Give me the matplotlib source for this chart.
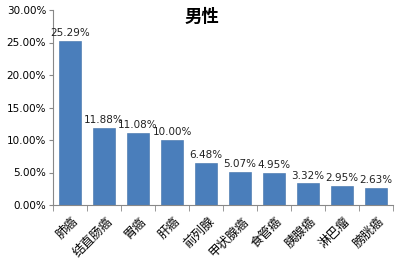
import matplotlib
matplotlib.use("Agg")
import matplotlib.pyplot as plt
from matplotlib.ticker import FuncFormatter, FixedLocator
import numpy as np

plt.rcParams['font.family'] = ['Noto Sans CJK SC', 'DejaVu Sans']

categories = ["肺癌", "结直肠癌", "胃癌", "肝癌", "前列腺", "甲状腺癌", "食管癌", "胰腺癌", "淋巴瘤", "膀胱癌"]
values = [25.29, 11.88, 11.08, 10.00, 6.48, 5.07, 4.95, 3.32, 2.95, 2.63]
yticks = [0, 5, 10, 15, 20, 25, 30]
title = "男性"

fig = plt.figure(figsize=(4, 2.67), dpi=100)
ax = fig.add_axes([53/400, 1-205/267, 340/400, 195/267])

x = np.arange(len(categories))
ax.bar(x, values, width=0.65, color="#4a7ebb", edgecolor="#3e6fa8", linewidth=0.4)
for xi, v in zip(x, values):
    ax.text(xi, v + 0.4, f"{v:.2f}%", ha="center", va="bottom", fontsize=7.5,
            family="DejaVu Sans", color="#222222")

ax.set_xlim(-0.5, len(categories) - 0.5)
ax.set_ylim(0, 30)
ax.set_yticks(yticks)
ax.yaxis.set_major_formatter(FuncFormatter(lambda v, p: f"{v:.2f}%"))
ax.tick_params(axis="y", labelsize=7.5, length=3, color="#888888", pad=2)
for lab in ax.get_yticklabels():
    lab.set_family("DejaVu Sans")

ax.set_xticks(x + 0.05)
ax.set_xticklabels(categories, rotation=45, ha="right", rotation_mode="anchor", fontsize=9)
ax.tick_params(axis="x", length=0, pad=7)
ax.xaxis.set_minor_locator(FixedLocator(np.arange(-0.5, len(categories), 1.0)))
ax.tick_params(axis="x", which="minor", length=4, color="#888888")

for s in ["top", "right"]:
    ax.spines[s].set_visible(False)
for s in ["left", "bottom"]:
    ax.spines[s].set_color("#888888")
    ax.spines[s].set_linewidth(0.8)

fig.text(202/400, 1-17/267, title, ha="center", va="center", fontsize=12.5, fontweight="bold")

fig.savefig("out.png", dpi=100)
